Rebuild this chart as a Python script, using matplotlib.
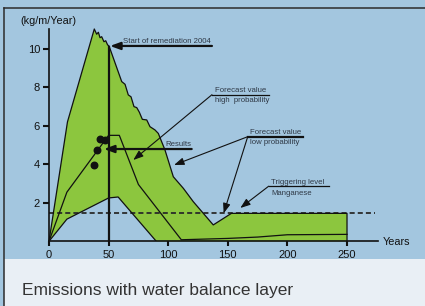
import matplotlib
matplotlib.use("Agg")
import matplotlib.pyplot as plt
from matplotlib.lines import Line2D
from matplotlib.patches import Rectangle

plt.rcParams["font.family"] = ["Liberation Sans", "DejaVu Sans"]

# upper edge of the forecast band (kg/m/year over years)
env_years = [0, 15.5, 38.0, 40.0, 41.4, 42.8, 44.2, 46.1, 47.6, 49.2, 50.3,
             61.0, 63.8, 66.5, 68.8, 71.3, 73.6, 75.8, 78.3, 82.0, 84.7,
             88.9, 91.7, 97.3, 104.3, 112.7, 121.0, 137.8, 153.0, 250.0]
env_values = [0, 6.2, 11.02, 10.75, 10.85, 10.57, 10.62, 10.36, 10.41, 10.19, 10.15,
              8.29, 8.15, 7.6, 7.5, 6.99, 6.94, 6.7, 6.33, 6.3, 5.95,
              5.78, 5.6, 4.74, 3.35, 2.75, 2.06, 0.85, 1.45, 1.45]

# lower edge of the band
low_years = [0, 15, 50, 58, 90]
low_values = [0, 1.15, 2.25, 2.3, 0]

# inner forecast line
mid_years = [0, 15, 50, 59, 75, 111, 150, 175, 200, 250]
mid_values = [0, 2.55, 5.5, 5.5, 2.95, 0.08, 0.15, 0.22, 0.34, 0.36]

# measured results
result_years = [38, 40, 42.8, 47.3]
result_values = [3.98, 4.76, 5.33, 5.28]

trigger_level = 1.45
remediation_year = 50
x_ticks = [0, 50, 100, 150, 200, 250]
y_ticks = [2, 4, 6, 8, 10]

BLUE = "#a3c6df"
PANEL = "#e9eff5"
GREEN = "#8cc63e"
INK = "#111111"
TXT = "#2e3845"

fig = plt.figure(figsize=(4.25, 3.06), dpi=100)
fig.patch.set_facecolor(BLUE)
ax = fig.add_axes([49 / 425, 64.7 / 306, 329 / 425, 212.3 / 306])
ax.set_facecolor("none")
ax.set_xlim(0, 276)
ax.set_ylim(0, 11.02)

poly_x = env_years + [env_years[-1], low_years[-1]] + low_years[::-1]
poly_y = env_values + [0, 0] + low_values[::-1]
ax.fill(poly_x, poly_y, color=GREEN, lw=0, clip_on=False, zorder=1)
ax.plot(env_years + [env_years[-1]], env_values + [0], color=INK, lw=0.9,
        clip_on=False, zorder=3)
ax.plot(low_years, low_values, color=INK, lw=0.9, zorder=3)
ax.plot(mid_years, mid_values, color=INK, lw=0.9, zorder=3)

ax.plot([0, 273.5], [trigger_level, trigger_level], color="#2a2a2a", lw=1.3,
        linestyle=(0, (2.8, 1.7)), clip_on=False, zorder=2)
ax.vlines(remediation_year, 0, 10.15, color=INK, lw=1.6, zorder=4)
ax.scatter(result_years, result_values, s=22, color=INK, zorder=5)

for side in ["top", "right"]:
    ax.spines[side].set_visible(False)
for side in ["left", "bottom"]:
    ax.spines[side].set_linewidth(1.2)
    ax.spines[side].set_color(INK)

ax.set_xticks(x_ticks)
ax.set_yticks(y_ticks)
ax.tick_params(axis="y", length=4.5, width=1.5, pad=2, labelsize=8, colors=INK)
ax.tick_params(axis="x", length=3.5, width=1.5, pad=2.5, labelsize=8, colors=INK)


def arrow(tip, tail, lw):
    ax.annotate("", xy=tip, xytext=tail, annotation_clip=False,
                arrowprops=dict(arrowstyle="-|>,head_length=0.6,head_width=0.22",
                                lw=lw, color=INK, shrinkA=0, shrinkB=0,
                                mutation_scale=10))


def underline(x0, x1, y, lw):
    ax.plot([x0, x1], [y, y], color=INK, lw=lw, clip_on=False, zorder=4)


small = dict(fontsize=5.6, color=TXT, va="baseline", ha="left")

# start of remediation
arrow((51.2, 10.14), (136.7, 10.14), 1.6)
ax.text(62.1, 10.3, "Start of remediation 2004", **small)

# results
arrow((46.1, 4.79), (119.7, 4.79), 1.6)
ax.text(97.9, 4.95, "Results", **small)

# forecast, high probability
underline(136.7, 184.8, 7.61, 0.9)
arrow((70.7, 4.22), (136.7, 7.61), 0.8)
ax.text(139.5, 7.75, "Forecast value", **small)
ax.text(139.5, 7.23, "high  probability", **small)

# forecast, low probability
underline(166.7, 212.8, 5.43, 1.6)
arrow((104.9, 3.96), (166.7, 5.43), 0.8)
arrow((146.5, 1.45), (166.7, 5.43), 0.8)
ax.text(168.4, 5.57, "Forecast value", **small)
ax.text(168.4, 5.05, "low probability", **small)

# triggering level
underline(184.3, 235.2, 2.86, 0.9)
arrow((160.5, 1.73), (184.3, 2.86), 0.8)
ax.text(186.2, 3.0, "Triggering level", **small)
ax.text(186.2, 2.40, "Manganese", **small)

fig.text(20 / 425, (306 - 24) / 306, "(kg/m/Year)", fontsize=7.8, color=INK,
         va="baseline", ha="left")
fig.text(382.3 / 425, (306 - 242.3) / 306, "Years", fontsize=7.8, color=INK,
         va="center", ha="left")

# caption panel and frame
fig.add_artist(Rectangle((4.3 / 425, 0), 1, 47 / 306, transform=fig.transFigure,
                         facecolor=PANEL, edgecolor="none", zorder=0))
fig.add_artist(Line2D([4.3 / 425, 1], [298 / 306, 298 / 306], transform=fig.transFigure,
                      color="#2b2b2b", lw=1.1))
fig.add_artist(Line2D([4.3 / 425, 4.3 / 425], [0, 298 / 306], transform=fig.transFigure,
                      color="#2b2b2b", lw=1.1))
fig.text(21.7 / 425, 11 / 306, "Emissions with water balance layer", fontsize=12.5,
         color="#333333", va="baseline", ha="left")

fig.savefig("out.png", dpi=100, facecolor=fig.get_facecolor())
